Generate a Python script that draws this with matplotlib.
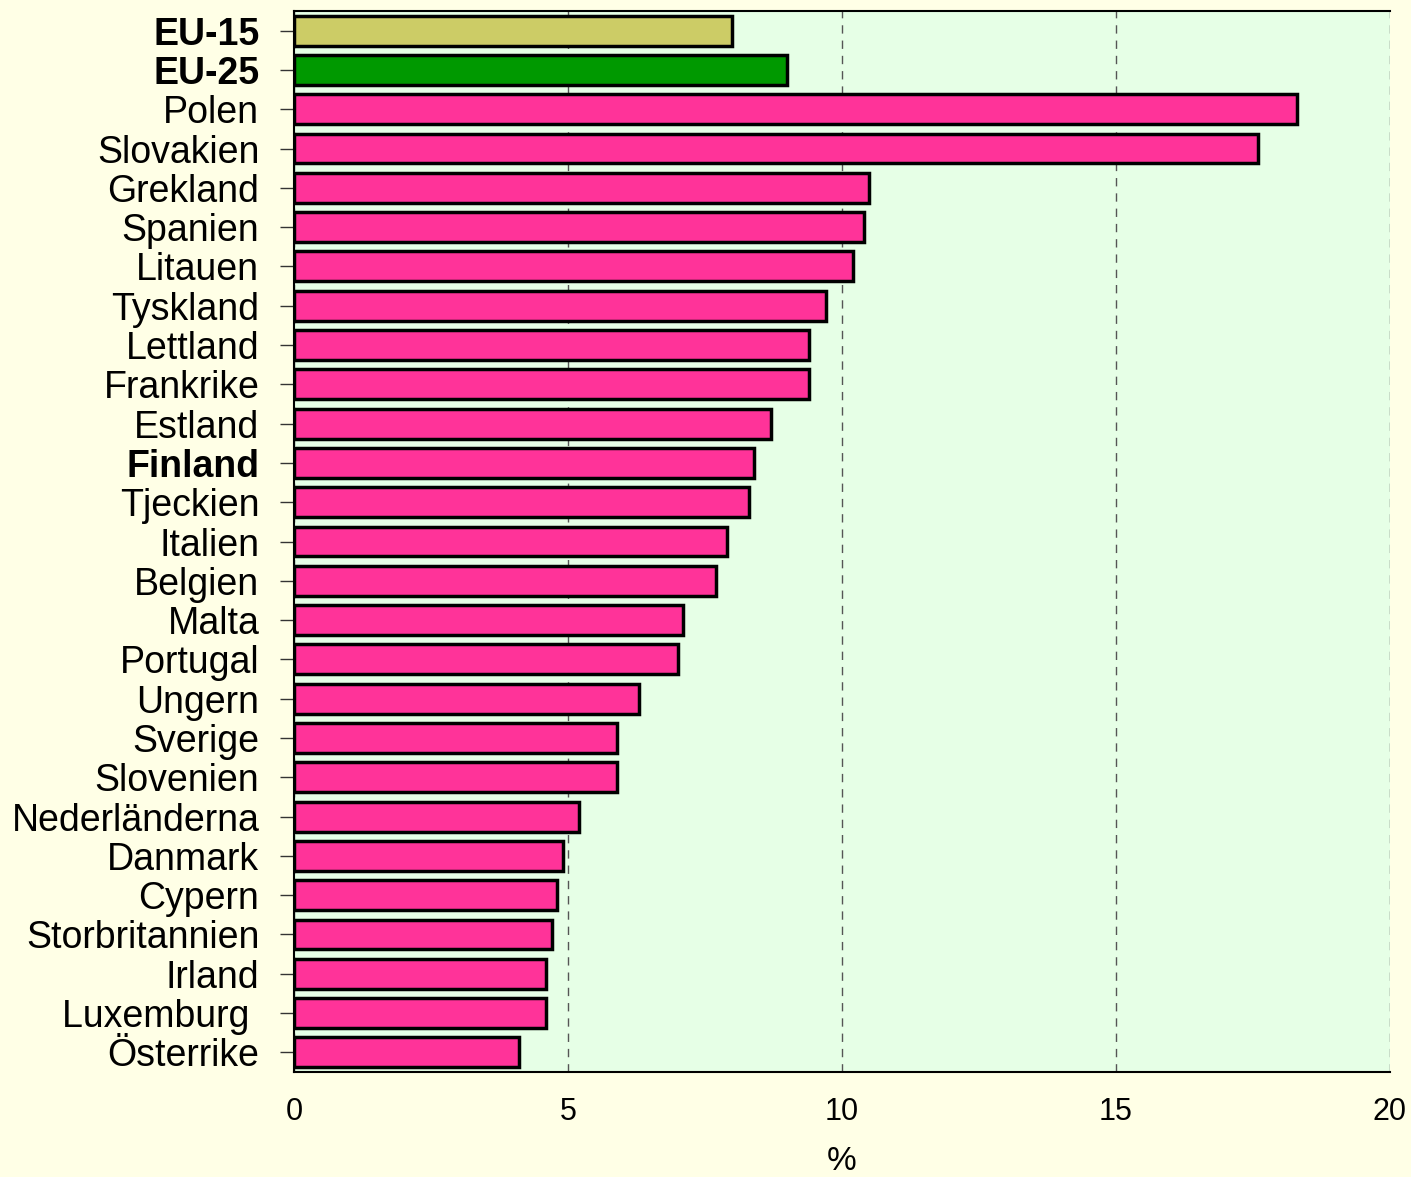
import matplotlib.pyplot as plt

plt.rcParams["font.family"] = ["Liberation Sans", "DejaVu Sans"]

countries = ["EU-15", "EU-25", "Polen", "Slovakien", "Grekland", "Spanien", "Litauen",
             "Tyskland", "Lettland", "Frankrike", "Estland", "Finland", "Tjeckien",
             "Italien", "Belgien", "Malta", "Portugal", "Ungern", "Sverige", "Slovenien",
             "Nederländerna", "Danmark", "Cypern", "Storbritannien", "Irland",
             "Luxemburg ", "Österrike"]
values = [8.0, 9.0, 18.3, 17.6, 10.5, 10.4, 10.2, 9.7, 9.4, 9.4, 8.7, 8.4, 8.3,
          7.9, 7.7, 7.1, 7.0, 6.3, 5.9, 5.9, 5.2, 4.9, 4.8, 4.7, 4.6, 4.6, 4.1]
bold_labels = ["EU-15", "EU-25", "Finland"]
special_colors = {"EU-15": "#CCCC66", "EU-25": "#009900"}

colors = [special_colors.get(c, "#FF3399") for c in countries]

fig = plt.figure(figsize=(14.11, 11.77), dpi=100, facecolor="#FFFFE6")
ax = fig.add_axes([294 / 1411, 1 - 1072 / 1177, (1390 - 294) / 1411, (1072 - 11) / 1177])
ax.set_facecolor("#E6FFE6")

ypos = list(range(len(countries)))
ax.barh(ypos, values, height=0.76, color=colors, edgecolor="black", linewidth=2.5, zorder=3)

ax.set_xlim(0, 20)
ax.set_ylim(len(countries) - 0.5, -0.5)
ax.set_xticks([0, 5, 10, 15, 20])
ax.set_yticks(ypos)
ax.set_yticklabels(countries)
for lbl in ax.get_yticklabels():
    if lbl.get_text() in bold_labels:
        lbl.set_fontweight("bold")

ax.tick_params(axis="y", length=10, width=1, pad=15, labelsize=27, color="#333333")
ax.tick_params(axis="x", length=0, pad=18, labelsize=22)
ax.xaxis.grid(True, linestyle=(0, (6, 5)), color="#555555", linewidth=1, zorder=0)
ax.set_axisbelow(True)

for s in ["top", "bottom", "left"]:
    ax.spines[s].set_linewidth(1.5)
ax.spines["right"].set_visible(False)

ax.set_xlabel("%", fontsize=24, labelpad=14)

fig.savefig("out.png", dpi=100, facecolor=fig.get_facecolor())
